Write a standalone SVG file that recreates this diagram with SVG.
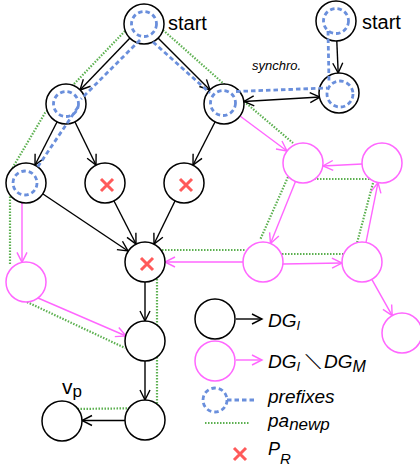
<svg xmlns="http://www.w3.org/2000/svg" width="420" height="468" viewBox="0 0 420 468">
<style>
.n{fill:#fff;stroke:#000;stroke-width:1.5}
.m{fill:#fff;stroke:#ff66ff;stroke-width:1.5}
.e{fill:none;stroke:#000;stroke-width:1.4;marker-end:url(#ak)}
.em{fill:none;stroke:#ff66ff;stroke-width:1.4;marker-end:url(#am)}
.g{fill:none;stroke:#5cb050;stroke-width:2.2;stroke-dasharray:1.5 1.5}
.b{fill:none;stroke:#6a8fdc;stroke-width:2.8;stroke-dasharray:4.5 3}
.x{stroke:#ff5a5a;stroke-width:3;fill:none}
text{font-family:"Liberation Sans",Arial,sans-serif;fill:#000}
.it{font-style:italic}
</style>
<defs>
<marker id="ak" markerUnits="userSpaceOnUse" markerWidth="14" markerHeight="14" refX="12" refY="7" orient="auto-start-reverse" overflow="visible"><path d="M2,2 L12,7 L2,12" fill="none" stroke="#000" stroke-width="1.4"/></marker>
<marker id="am" markerUnits="userSpaceOnUse" markerWidth="14" markerHeight="14" refX="12" refY="7" orient="auto" overflow="visible"><path d="M2,2 L12,7 L2,12" fill="none" stroke="#ff66ff" stroke-width="1.4"/></marker>
<path id="xm" d="M-6,-6 L6,6 M6,-6 L-6,6"/>
</defs>

<g id="connectors">
<!-- pa_newp dotted -->
<polyline class="g" points="125,31 74,84 45,113 13,167 10,196 10,264"/>
<line class="g" x1="27" y1="302" x2="125" y2="348"/>
<polyline class="g" points="157,279 157,408 73,409"/>
<line class="g" x1="162" y1="250" x2="246" y2="250"/>
<polyline class="g" points="163,30 233,92 293,143"/>
<line class="g" x1="305" y1="179" x2="380" y2="179"/>
<line class="g" x1="373" y1="183" x2="357" y2="243"/>
<line class="g" x1="288" y1="177" x2="260" y2="240"/>
<line class="g" x1="279" y1="254" x2="346" y2="254"/>
<!-- DG_I edges -->
<line class="e" x1="130" y1="38" x2="80" y2="90"/>
<line class="e" x1="158" y1="38" x2="210" y2="90"/>
<line class="e" x1="57" y1="122" x2="35" y2="165"/>
<line class="e" x1="75" y1="122" x2="96" y2="165"/>
<line class="e" x1="215" y1="122" x2="193" y2="165"/>
<line class="e" x1="43" y1="194" x2="128" y2="251"/>
<line class="e" x1="114" y1="201" x2="136" y2="244"/>
<line class="e" x1="175" y1="201" x2="154" y2="244"/>
<line class="e" x1="145" y1="282" x2="145" y2="321"/>
<line class="e" x1="145" y1="361" x2="145" y2="400"/>
<line class="e" x1="125" y1="420.5" x2="82" y2="420.5"/>
<line class="e" x1="336.8" y1="41" x2="338.2" y2="73"/>
<line class="e" x1="244" y1="101.5" x2="320" y2="97" style="marker-start:url(#ak)"/>
<!-- DG_I \ DG_M edges -->
<line class="em" x1="240" y1="116" x2="287" y2="151"/>
<line class="em" x1="362" y1="164" x2="323" y2="166"/>
<line class="em" x1="295.5" y1="181.5" x2="270.5" y2="243.5"/>
<line class="em" x1="366" y1="242.4" x2="378" y2="182.6"/>
<line class="em" x1="283" y1="264" x2="342" y2="263"/>
<line class="em" x1="371.8" y1="279.4" x2="392.2" y2="315.6"/>
<line class="em" x1="243" y1="262" x2="165" y2="262"/>
<line class="em" x1="22" y1="202.6" x2="22" y2="262.4"/>
<line class="em" x1="38" y1="298" x2="126" y2="336"/>
</g>

<g id="node-start"><circle class="n" cx="144" cy="24" r="20"/><text x="168" y="30" font-size="20">start</text></g>
<g id="node-a"><circle class="n" cx="66" cy="104" r="20"/></g>
<g id="node-b"><circle class="n" cx="224" cy="104" r="20"/></g>
<g id="node-c"><circle class="n" cx="26" cy="183" r="20"/></g>
<g id="node-d"><circle class="n" cx="105" cy="183" r="20"/><use href="#xm" class="x" x="107" y="185"/></g>
<g id="node-e"><circle class="n" cx="184" cy="183" r="20"/><use href="#xm" class="x" x="186" y="185"/></g>
<g id="node-f"><circle class="n" cx="145" cy="262" r="20"/><use href="#xm" class="x" x="147" y="264"/></g>
<g id="node-g"><circle class="n" cx="145" cy="341" r="20"/></g>
<g id="node-h"><circle class="n" cx="145" cy="420" r="20"/></g>
<g id="node-vp"><circle class="n" cx="62" cy="421" r="20"/><text x="62" y="394" font-size="21">v<tspan font-size="17" dy="3">p</tspan></text></g>
<g id="node-m1"><circle class="m" cx="26" cy="282" r="20"/></g>
<g id="node-start2"><circle class="n" cx="336" cy="21" r="20"/><text x="362" y="29" font-size="20">start</text></g>
<g id="node-s2"><circle class="n" cx="339" cy="93" r="20"/></g>
<g id="node-p1"><circle class="m" cx="303" cy="163" r="20"/></g>
<g id="node-p2"><circle class="m" cx="382" cy="163" r="20"/></g>
<g id="node-p3"><circle class="m" cx="263" cy="262" r="20"/></g>
<g id="node-p4"><circle class="m" cx="362" cy="262" r="20"/></g>
<g id="node-p5"><circle class="m" cx="402" cy="333" r="20"/></g>

<g id="prefixes">
<circle class="b" cx="144" cy="24" r="12.5"/>
<circle class="b" cx="66" cy="104" r="12.5"/>
<circle class="b" cx="223" cy="103" r="12.5"/>
<circle class="b" cx="25" cy="183" r="12"/>
<circle class="b" cx="336" cy="21" r="12.5"/>
<circle class="b" cx="340" cy="94" r="13"/>
<line class="b" x1="140" y1="40" x2="81" y2="99"/>
<line class="b" x1="78" y1="107" x2="37" y2="168"/>
<line class="b" x1="153" y1="42" x2="210" y2="93"/>
<line class="b" x1="236" y1="91.5" x2="327" y2="88"/>
<line class="b" x1="328" y1="31" x2="329" y2="82"/>
</g>

<text class="it" x="252" y="70" font-size="13">synchro.</text>

<g id="legend">
<circle class="n" cx="215" cy="319" r="20"/>
<line class="e" x1="236" y1="319" x2="262" y2="319"/>
<text class="it" x="268" y="327" font-size="19">DG<tspan font-size="13" dy="3">I</tspan></text>
<circle class="m" cx="215" cy="361" r="20"/>
<line class="em" x1="236" y1="360" x2="262" y2="360"/>
<text class="it" x="268" y="368" font-size="19">DG<tspan font-size="13" dy="3">I</tspan></text>
<text transform="translate(311,368) skewX(34)" x="0" y="0" font-size="18" style="font-family:'DejaVu Sans',sans-serif">∖</text>
<text class="it" x="324" y="368" font-size="19">DG<tspan font-size="16" dy="4">M</tspan></text>
<circle class="b" cx="215" cy="400" r="12"/>
<line class="b" x1="227" y1="400" x2="256" y2="400"/>
<text class="it" x="268" y="403" font-size="19">prefixes</text>
<line class="g" x1="205" y1="423" x2="250" y2="423"/>
<text class="it" x="268" y="427" font-size="19">pa<tspan font-size="17" dy="3">newp</tspan></text>
<use href="#xm" class="x" x="240" y="454"/>
<text class="it" x="268" y="455" font-size="18">P</text>
<text class="it" x="280" y="464" font-size="15">R</text>
</g>
</svg>
